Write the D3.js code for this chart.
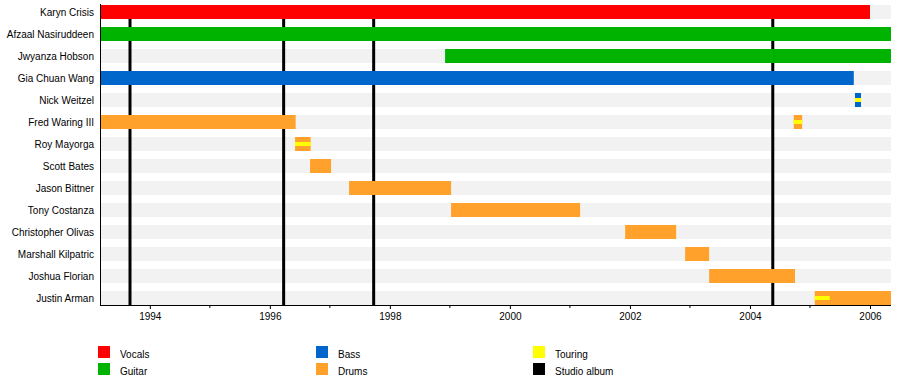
<!DOCTYPE html>
<html>
<head>
<meta charset="utf-8">
<script src="https://cdn.jsdelivr.net/npm/d3@7"></script>
<style>
  body { margin: 0; background: #fff; }
  text { font-family: "Liberation Sans", Arial, sans-serif; font-size: 10px; fill: #000; }
</style>
</head>
<body>
<svg width="900" height="384"></svg>
<script>
// band members, top to bottom
var members = ["Karyn Crisis", "Afzaal Nasiruddeen", "Jwyanza Hobson", "Gia Chuan Wang",
  "Nick Weitzel", "Fred Waring III", "Roy Mayorga", "Scott Bates", "Jason Bittner",
  "Tony Costanza", "Christopher Olivas", "Marshall Kilpatric", "Joshua Florian", "Justin Arman"];

// [member, role, from, to] in decimal years
var periods = [
  ["Karyn Crisis", "Vocals", 1993.17, 2006.0],
  ["Afzaal Nasiruddeen", "Guitar", 1993.17, 2006.35],
  ["Jwyanza Hobson", "Guitar", 1998.92, 2006.35],
  ["Gia Chuan Wang", "Bass", 1993.17, 2005.73],
  ["Nick Weitzel", "Bass", 2005.75, 2005.85],
  ["Fred Waring III", "Drums", 1993.17, 1996.43],
  ["Fred Waring III", "Drums", 2004.73, 2004.87],
  ["Roy Mayorga", "Drums", 1996.42, 1996.68],
  ["Scott Bates", "Drums", 1996.67, 1997.02],
  ["Jason Bittner", "Drums", 1997.32, 1999.02],
  ["Tony Costanza", "Drums", 1999.02, 2001.17],
  ["Christopher Olivas", "Drums", 2001.92, 2002.77],
  ["Marshall Kilpatric", "Drums", 2002.92, 2003.32],
  ["Joshua Florian", "Drums", 2003.32, 2004.75],
  ["Justin Arman", "Drums", 2005.08, 2006.35]
];

// touring stints drawn as a thin stripe over the bar
var touring = [
  ["Nick Weitzel", 2005.75, 2005.85],
  ["Fred Waring III", 2004.73, 2004.87],
  ["Roy Mayorga", 1996.42, 1996.68],
  ["Justin Arman", 2005.08, 2005.33]
];

var albums = [1993.67, 1996.23, 1997.73, 2004.38];

var yearTicks = [1994, 1996, 1998, 2000, 2002, 2004, 2006];
var minorTicks = [1995, 1997, 1999, 2001, 2003, 2005];

var legendItems = [
  ["Vocals", "#ff0000"], ["Guitar", "#00b300"],
  ["Bass", "#0066cc"], ["Drums", "#ffa12b"],
  ["Touring", "#ffff00"], ["Studio album", "#000000"]
];

var colors = {};
legendItems.forEach(function(d) { colors[d[0]] = d[1]; });

var svg = d3.select("svg"),
    plotLeft = 100, plotRight = 891, firstRow = 12, lastRow = 298, axisY = 305;

var x = d3.scaleLinear().domain([1993.17, 2006.35]).range([plotLeft, plotRight]);
var y = d3.scalePoint().domain(members).range([firstRow, lastRow]);
var barH = 14;

// row backgrounds
svg.append("g").selectAll("rect")
    .data(members)
  .enter().append("rect")
    .attr("x", plotLeft)
    .attr("y", function(d) { return y(d) - barH / 2; })
    .attr("width", plotRight - plotLeft)
    .attr("height", barH)
    .attr("fill", "#f2f2f2");

// studio album lines
svg.append("g").selectAll("line")
    .data(albums)
  .enter().append("line")
    .attr("x1", function(d) { return x(d); })
    .attr("x2", function(d) { return x(d); })
    .attr("y1", firstRow - barH / 2)
    .attr("y2", axisY)
    .attr("stroke", "#000")
    .attr("stroke-width", 3);

// member bars
svg.append("g").selectAll("rect")
    .data(periods)
  .enter().append("rect")
    .attr("x", function(d) { return x(d[2]); })
    .attr("y", function(d) { return y(d[0]) - barH / 2; })
    .attr("width", function(d) { return x(d[3]) - x(d[2]); })
    .attr("height", barH)
    .attr("fill", function(d) { return colors[d[1]]; });

svg.append("g").selectAll("rect")
    .data(touring)
  .enter().append("rect")
    .attr("x", function(d) { return x(d[1]); })
    .attr("y", function(d) { return y(d[0]) - 2; })
    .attr("width", function(d) { return x(d[2]) - x(d[1]); })
    .attr("height", 4)
    .attr("fill", colors["Touring"]);

// names
svg.append("g").selectAll("text")
    .data(members)
  .enter().append("text")
    .attr("x", plotLeft - 6)
    .attr("y", function(d) { return y(d); })
    .attr("dy", "0.35em")
    .attr("text-anchor", "end")
    .text(function(d) { return d; });

// left frame line
svg.append("line")
    .attr("x1", plotLeft + 0.5)
    .attr("x2", plotLeft + 0.5)
    .attr("y1", 4)
    .attr("y2", axisY)
    .attr("stroke", "#000");

// x axis
var axis = svg.append("g")
    .attr("transform", "translate(0," + axisY + ")");
axis.call(d3.axisBottom(x).tickValues(yearTicks).tickFormat(d3.format("d")).tickSize(4).tickPadding(4));
axis.append("g").selectAll("line")
    .data(minorTicks)
  .enter().append("line")
    .attr("x1", function(d) { return x(d); })
    .attr("x2", function(d) { return x(d); })
    .attr("y2", 3)
    .attr("stroke", "#000");
axis.select(".domain").attr("d", "M" + plotLeft + ",0.5H" + plotRight).attr("stroke", "#000");
axis.selectAll("text").style("font-family", "Liberation Sans, Arial, sans-serif").style("font-size", "10px").attr("fill", "#000");

// legend
var legend = svg.append("g").selectAll("g")
    .data(legendItems)
  .enter().append("g")
    .attr("transform", function(d, i) {
      return "translate(" + [98, 316, 533][Math.floor(i / 2)] + "," + (346 + (i % 2) * 17) + ")";
    });
legend.append("rect")
    .attr("width", 12)
    .attr("height", 12)
    .attr("fill", function(d) { return d[1]; });
legend.append("text")
    .attr("x", 22)
    .attr("y", 8)
    .attr("dy", "0.35em")
    .text(function(d) { return d[0]; });
</script>
</body>
</html>
